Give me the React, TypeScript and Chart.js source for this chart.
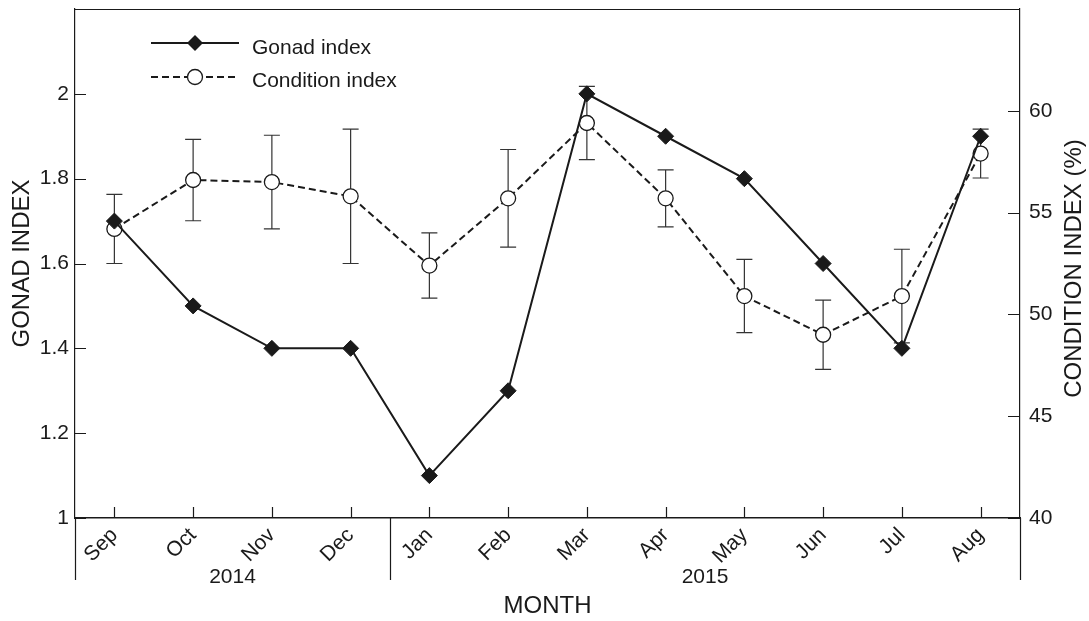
import { useEffect, useRef } from 'react';
import { Chart, registerables } from 'chart.js';

Chart.register(...registerables);

const months = ['Sep', 'Oct', 'Nov', 'Dec', 'Jan', 'Feb', 'Mar', 'Apr', 'May', 'Jun', 'Jul', 'Aug'];
const years = ['2014', '2015'];
const monthsPerYear = [4, 8];
const gonadIndex = [1.7, 1.5, 1.4, 1.4, 1.1, 1.3, 2.0, 1.9, 1.8, 1.6, 1.4, 1.9];
const conditionIndex = [54.2, 56.6, 56.5, 55.8, 52.4, 55.7, 59.4, 55.7, 50.9, 49.0, 50.9, 57.9];
const conditionError = [1.7, 2.0, 2.3, 3.3, 1.6, 2.4, 1.8, 1.4, 1.8, 1.7, 2.3, 1.2];
const gonadTicks = [1, 1.2, 1.4, 1.6, 1.8, 2];
const conditionTicks = [40, 45, 50, 55, 60];
const legendLabels = ['Gonad index', 'Condition index'];

const FONT = '"Liberation Sans", Arial, Helvetica, sans-serif';
const INK = '#1a1a1a';

const decorPlugin = {
  id: 'decor',
  beforeDatasetsDraw(chart: any) {
    const ctx = chart.ctx;
    const x = chart.scales.x;
    const y1 = chart.scales.y1;
    ctx.save();
    ctx.strokeStyle = '#333';
    ctx.lineWidth = 1.2;
    conditionIndex.forEach((v, i) => {
      const px = x.getPixelForValue(i);
      const top = y1.getPixelForValue(v + conditionError[i]);
      const bot = y1.getPixelForValue(v - conditionError[i]);
      ctx.beginPath();
      ctx.moveTo(px, top);
      ctx.lineTo(px, bot);
      ctx.moveTo(px - 8, top);
      ctx.lineTo(px + 8, top);
      ctx.moveTo(px - 8, bot);
      ctx.lineTo(px + 8, bot);
      ctx.stroke();
    });
    ctx.restore();
  },
  afterDraw(chart: any) {
    const ctx = chart.ctx;
    const area = chart.chartArea;
    const x = chart.scales.x;
    const y = chart.scales.y;
    const y1 = chart.scales.y1;
    ctx.save();
    ctx.strokeStyle = INK;
    ctx.lineWidth = 1.2;
    // top frame
    ctx.beginPath();
    ctx.moveTo(area.left, area.top + 0.5);
    ctx.lineTo(area.right, area.top + 0.5);
    ctx.stroke();
    // tick marks (inward)
    ctx.beginPath();
    y.ticks.forEach((t: any) => {
      const py = Math.round(y.getPixelForValue(t.value)) + 0.5;
      ctx.moveTo(area.left, py);
      ctx.lineTo(area.left + 11, py);
    });
    y1.ticks.forEach((t: any) => {
      const py = Math.round(y1.getPixelForValue(t.value)) + 0.5;
      ctx.moveTo(area.right, py);
      ctx.lineTo(area.right - 12, py);
    });
    months.forEach((_, i) => {
      const px = Math.round(x.getPixelForValue(i)) + 0.5;
      ctx.moveTo(px, area.bottom);
      ctx.lineTo(px, area.bottom - 11);
    });
    ctx.stroke();
    // year separators
    const sepBottom = area.bottom + 62;
    const bounds: number[] = [area.left];
    let idx = 0;
    monthsPerYear.forEach((n, k) => {
      idx += n;
      if (k < monthsPerYear.length - 1) {
        bounds.push((x.getPixelForValue(idx - 1) + x.getPixelForValue(idx)) / 2);
      }
    });
    bounds.push(area.right);
    ctx.beginPath();
    bounds.forEach((b) => {
      const bx = Math.round(b) + 0.5;
      ctx.moveTo(bx, area.bottom);
      ctx.lineTo(bx, sepBottom);
    });
    ctx.stroke();
    // year labels
    ctx.fillStyle = INK;
    ctx.font = `21px ${FONT}`;
    ctx.textAlign = 'center';
    ctx.textBaseline = 'middle';
    years.forEach((yr, k) => {
      ctx.fillText(yr, (bounds[k] + bounds[k + 1]) / 2, area.bottom + 59);
    });
    // right axis title
    ctx.save();
    ctx.translate(1074, (area.top + area.bottom) / 2 + 5);
    ctx.rotate(-Math.PI / 2);
    ctx.font = `24px ${FONT}`;
    ctx.textAlign = 'center';
    ctx.textBaseline = 'middle';
    ctx.fillText('CONDITION INDEX (%)', 0, 0);
    ctx.restore();
    // legend
    const lx0 = 151;
    const lx1 = 239;
    const cx = 195;
    const rows = [43, 77];
    ctx.lineWidth = 2;
    ctx.setLineDash([]);
    ctx.beginPath();
    ctx.moveTo(lx0, rows[0]);
    ctx.lineTo(lx1, rows[0]);
    ctx.stroke();
    ctx.fillStyle = INK;
    ctx.beginPath();
    ctx.moveTo(cx - 8, rows[0]);
    ctx.lineTo(cx, rows[0] - 8);
    ctx.lineTo(cx + 8, rows[0]);
    ctx.lineTo(cx, rows[0] + 8);
    ctx.closePath();
    ctx.fill();
    ctx.setLineDash([7, 4]);
    ctx.beginPath();
    ctx.moveTo(lx0, rows[1]);
    ctx.lineTo(lx1, rows[1]);
    ctx.stroke();
    ctx.setLineDash([]);
    ctx.lineWidth = 1.3;
    ctx.fillStyle = '#fff';
    ctx.beginPath();
    ctx.arc(cx, rows[1], 7.5, 0, Math.PI * 2);
    ctx.fill();
    ctx.stroke();
    ctx.fillStyle = INK;
    ctx.font = `21px ${FONT}`;
    ctx.textAlign = 'left';
    ctx.textBaseline = 'alphabetic';
    ctx.fillText(legendLabels[0], 252, rows[0] + 11);
    ctx.fillText(legendLabels[1], 252, rows[1] + 10);
    ctx.restore();
  },
};

export default function App() {
  const ref = useRef<HTMLCanvasElement | null>(null);
  useEffect(() => {
    if (!ref.current) return;
    Chart.defaults.font.family = FONT;
    Chart.defaults.color = INK;
    const chart = new Chart(ref.current, {
      type: 'line',
      data: {
        labels: months,
        datasets: [
          {
            label: legendLabels[0],
            data: gonadIndex,
            yAxisID: 'y',
            borderColor: INK,
            borderWidth: 2,
            pointStyle: 'rectRot',
            pointRadius: 8,
            pointBackgroundColor: INK,
            pointBorderColor: INK,
            pointBorderWidth: 1,
            tension: 0,
            order: 0,
          },
          {
            label: legendLabels[1],
            data: conditionIndex,
            yAxisID: 'y1',
            borderColor: INK,
            borderWidth: 2,
            borderDash: [7, 4],
            pointStyle: 'circle',
            pointRadius: 7.5,
            pointBackgroundColor: '#fff',
            pointBorderColor: INK,
            pointBorderWidth: 1.3,
            tension: 0,
            order: 1,
          },
        ],
      },
      options: {
        animation: false,
        responsive: true,
        maintainAspectRatio: false,
        layout: { padding: { top: 9, left: 0, right: 0, bottom: 0 } },
        plugins: { legend: { display: false }, tooltip: { enabled: false } },
        events: [],
        scales: {
          x: {
            type: 'category',
            offset: true,
            grid: { display: false, drawTicks: false },
            border: { display: true, color: INK, width: 1.5 },
            ticks: {
              autoSkip: false,
              minRotation: 45,
              maxRotation: 45,
              padding: 5,
              font: { size: 21 },
              color: INK,
            },
            title: {
              display: true,
              text: 'MONTH',
              font: { size: 24 },
              color: INK,
              padding: { top: 0, bottom: 0 },
            },
            afterFit: (s: any) => {
              s.height = 103;
              s.paddingLeft = 0;
              s.paddingRight = 0;
            },
          },
          y: {
            type: 'linear',
            position: 'left',
            min: 1,
            max: 2.2,
            grid: { display: false, drawTicks: false },
            border: { display: true, color: INK, width: 1.2 },
            afterBuildTicks: (s: any) => {
              s.ticks = gonadTicks.map((v) => ({ value: v }));
            },
            ticks: {
              padding: 6,
              font: { size: 21 },
              color: INK,
              callback: (v: any) => String(v),
            },
            title: {
              display: true,
              text: 'GONAD INDEX',
              font: { size: 24 },
              color: INK,
              padding: { top: 8, bottom: 0 },
            },
            afterFit: (s: any) => {
              s.width = 75;
              s.paddingTop = 0;
              s.paddingBottom = 0;
            },
          },
          y1: {
            type: 'linear',
            position: 'right',
            min: 40,
            max: 65,
            grid: { display: false, drawTicks: false },
            border: { display: true, color: INK, width: 1.2 },
            afterBuildTicks: (s: any) => {
              s.ticks = conditionTicks.map((v) => ({ value: v }));
            },
            ticks: {
              padding: 9,
              font: { size: 21 },
              color: INK,
              callback: (v: any) => String(v),
            },
            afterFit: (s: any) => {
              s.width = 69;
              s.paddingTop = 0;
              s.paddingBottom = 0;
            },
          },
        },
      },
      plugins: [decorPlugin],
    });
    return () => chart.destroy();
  }, []);
  return (
    <div style={{ position: 'absolute', left: 0, top: 0, width: 1089, height: 621, background: '#fff' }}>
      <canvas ref={ref} />
    </div>
  );
}
